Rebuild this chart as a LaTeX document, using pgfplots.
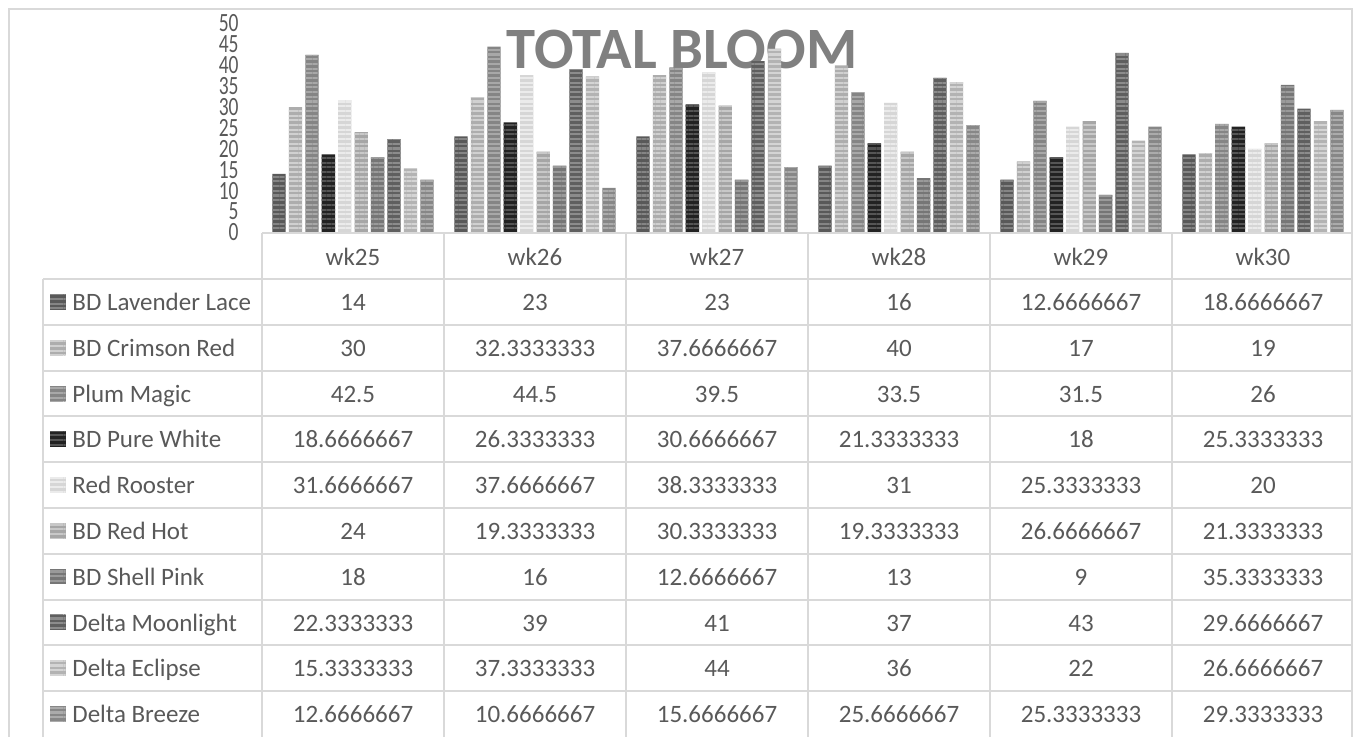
\documentclass[border=0pt]{standalone}
\usepackage{pgfplots}
\pgfplotsset{compat=1.18}
\usepackage{pgfplotstable}
\usepackage{fontspec}
\setmainfont{Carlito}
\usetikzlibrary{patterns.meta}
\definecolor{gridc}{HTML}{D9D9D9}
\definecolor{txt}{HTML}{595959}
\definecolor{ttl}{HTML}{808080}
\definecolor{fA}{HTML}{595959}\definecolor{sA}{HTML}{858585}
\definecolor{fB}{HTML}{ADADAD}\definecolor{sB}{HTML}{D0D0D0}
\definecolor{fC}{HTML}{858585}\definecolor{sC}{HTML}{A8A8A8}
\definecolor{fD}{HTML}{222222}\definecolor{sD}{HTML}{555555}
\definecolor{fE}{HTML}{D6D6D6}\definecolor{sE}{HTML}{EBEBEB}
\definecolor{fF}{HTML}{A6A6A6}\definecolor{sF}{HTML}{C8C8C8}
\definecolor{fG}{HTML}{767676}\definecolor{sG}{HTML}{9A9A9A}
\definecolor{fH}{HTML}{5F5F5F}\definecolor{sH}{HTML}{8C8C8C}
\definecolor{fI}{HTML}{B3B3B3}\definecolor{sI}{HTML}{D4D4D4}
\definecolor{fJ}{HTML}{878787}\definecolor{sJ}{HTML}{ABABAB}
\tikzset{
  stripe/.style 2 args={fill=#1, draw=none, postaction={pattern={Lines[angle=0,distance=2.35pt,line width=1.05pt]}, pattern color=#2}},
}
\pgfplotstableread{
wk Lav Crim Plum White Rooster RedHot Shell Moon Eclipse Breeze
0 14 30 42.5 18.6666667 31.6666667 24 18 22.3333333 15.3333333 12.6666667
1 23 32.3333333 44.5 26.3333333 37.6666667 19.3333333 16 39 37.3333333 10.6666667
2 23 37.6666667 39.5 30.6666667 38.3333333 30.3333333 12.6666667 41 44 15.6666667
3 16 40 33.5 21.3333333 31 19.3333333 13 37 36 25.6666667
4 12.6666667 17 31.5 18 25.3333333 26.6666667 9 43 22 25.3333333
5 18.6666667 19 26 25.3333333 20 21.3333333 35.3333333 29.6666667 26.6666667 29.3333333
}\bloom
\begin{document}
\begin{tikzpicture}
\path[use as bounding box] (0,0) rectangle (678pt,-368pt);
\begin{scope}[x=0.5pt,y=-0.5pt]
\node[anchor=base, font=\fontsize{29.3}{31}\selectfont\bfseries, text=ttl, inner sep=0pt] at (682,68) {TOTAL BLOOM};
\end{scope}
\begin{axis}[
  at={(131pt,-116.25pt)}, anchor=south west,
  scale only axis, width=546pt, height=104.5pt,
  xmin=-0.5, xmax=5.5, ymin=0, ymax=50,
  xtick=\empty, ytick={0,5,...,50},
  axis line style={draw=none}, major tick length=0pt,
  /pgf/number format/assume math mode=true,
  yticklabel={\scalebox{1}[1.35]{\pgfmathprintnumber{\tick}}},
  yticklabel style={anchor=east, font=\fontsize{9.75}{10}\selectfont, text=txt, inner sep=0pt, xshift=-11.5pt},
  bar width=0.0732,
  clip=false,
]
\addplot[ybar, bar shift=-0.40635, stripe={fA}{sA}] table[x=wk,y=Lav]{\bloom};
\addplot[ybar, bar shift=-0.31605, stripe={fB}{sB}] table[x=wk,y=Crim]{\bloom};
\addplot[ybar, bar shift=-0.22575, stripe={fC}{sC}] table[x=wk,y=Plum]{\bloom};
\addplot[ybar, bar shift=-0.13545, stripe={fD}{sD}] table[x=wk,y=White]{\bloom};
\addplot[ybar, bar shift=-0.04515, stripe={fE}{sE}] table[x=wk,y=Rooster]{\bloom};
\addplot[ybar, bar shift=0.04515, stripe={fF}{sF}] table[x=wk,y=RedHot]{\bloom};
\addplot[ybar, bar shift=0.13545, stripe={fG}{sG}] table[x=wk,y=Shell]{\bloom};
\addplot[ybar, bar shift=0.22575, stripe={fH}{sH}] table[x=wk,y=Moon]{\bloom};
\addplot[ybar, bar shift=0.31605, stripe={fI}{sI}] table[x=wk,y=Eclipse]{\bloom};
\addplot[ybar, bar shift=0.40635, stripe={fJ}{sJ}] table[x=wk,y=Breeze]{\bloom};
\end{axis}
\begin{scope}[x=0.5pt,y=-0.5pt]
% outer frame
\draw[gridc, line width=1pt] (9,740) -- (9,9) -- (1352,9) -- (1352,740);
% table lines
\draw[gridc, line width=1pt] (262,233) -- (1352,233);
\foreach \k in {0,...,9} {\draw[gridc, line width=1pt] (43,{279+45.8*\k}) -- (1352,{279+45.8*\k});}
\draw[gridc, line width=1pt] (43,279) -- (43,740);
\foreach \xx in {262,444,626,808,990,1172} {\draw[gridc, line width=1pt] (\xx,233) -- (\xx,740);}
% header
\foreach \w [count=\i from 0] in {wk25,wk26,wk27,wk28,wk29,wk30}
  {\node[anchor=base, inner sep=0pt, text=txt, font=\fontsize{12.5}{15}\selectfont] at ({353+182*\i},265.5) {\w};}
% row labels with keys
\foreach \lab/\fc/\sc [count=\j from 0] in {BD Lavender Lace/fA/sA, BD Crimson Red/fB/sB, Plum Magic/fC/sC, BD Pure White/fD/sD, Red Rooster/fE/sE, BD Red Hot/fF/sF, BD Shell Pink/fG/sG, Delta Moonlight/fH/sH, Delta Eclipse/fI/sI, Delta Breeze/fJ/sJ}
  {\node[anchor=base west, inner sep=0pt, text=txt, font=\fontsize{12.5}{15}\selectfont] at (72,{310.4+45.8*\j}) {\lab};
   \fill[stripe={\fc}{\sc}] (50,{294+45.8*\j}) rectangle (65.5,{309.5+45.8*\j});}
% values
\foreach \j/\a/\b/\c/\d/\e/\f in {
  0/14/23/23/16/12.6666667/18.6666667,
  1/30/32.3333333/37.6666667/40/17/19,
  2/42.5/44.5/39.5/33.5/31.5/26,
  3/18.6666667/26.3333333/30.6666667/21.3333333/18/25.3333333,
  4/31.6666667/37.6666667/38.3333333/31/25.3333333/20,
  5/24/19.3333333/30.3333333/19.3333333/26.6666667/21.3333333,
  6/18/16/12.6666667/13/9/35.3333333,
  7/22.3333333/39/41/37/43/29.6666667,
  8/15.3333333/37.3333333/44/36/22/26.6666667,
  9/12.6666667/10.6666667/15.6666667/25.6666667/25.3333333/29.3333333}
{
  \foreach \v [count=\i from 0] in {\a,\b,\c,\d,\e,\f}
    {\node[anchor=base, inner sep=0pt, text=txt, font=\fontsize{12.5}{15}\selectfont] at ({353+182*\i},{310.4+45.8*\j}) {\v};}
}
\end{scope}
\end{tikzpicture}
\end{document}
